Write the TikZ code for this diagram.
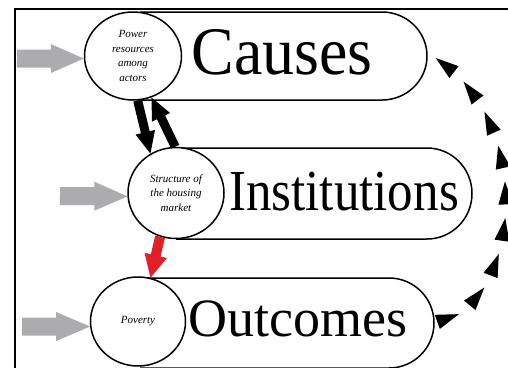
\documentclass[tikz,border=0pt]{standalone}
\usepackage{fontspec}
\setmainfont{Liberation Serif}
\usetikzlibrary{calc,shapes.geometric,decorations.markings}
\definecolor{arrgray}{RGB}{172,172,174}
\definecolor{arrred}{RGB}{226,30,38}
% #1 style, #2 from, #3 to, #4 half shaft, #5 half head, #6 head length
\newcommand{\blockarr}[6]{%
  \coordinate (bahb) at ($(#3)!#6!(#2)$);
  \fill[#1] ($(#2)!#4!90:(#3)$) -- ($(bahb)!#4!90:(#3)$) -- ($(bahb)!#5!90:(#3)$)
    -- (#3) -- ($(bahb)!#5!-90:(#3)$) -- ($(bahb)!#4!-90:(#3)$) -- ($(#2)!#4!-90:(#3)$) -- cycle;}
\begin{document}
\begin{tikzpicture}[x=1pt,y=1pt,
  circ/.style={ellipse, draw, line width=1.5pt, fill=white, inner sep=0pt,
    font=\fontsize{11}{14.5}\selectfont\itshape, align=center},
  boxline/.style={line width=1.5pt},
  bigtext/.style={inner sep=0pt, anchor=base},
  grayarr/.style={fill=arrgray},
  blackarr/.style={fill=black},
  redarr/.style={fill=arrred},
  feedback/.style={decoration={markings,
      mark=between positions 12pt and 325pt step 36.5pt with
      {\fill[black] (-11,-7.5) -- (12,0) -- (-11,7.5) -- cycle;}},
    postaction={decorate}}
]
\fill[white] (0,0) rectangle (508,-367);
\useasboundingbox (0,0) rectangle (508,-367);
\clip (0,0) rectangle (508,-367);

% frame
\draw[line width=2pt] (512,-9) -- (15,-9) -- (15,-372);

% boxes
\draw[boxline] (140,-12) -- (382,-12) arc[start angle=90,end angle=-90,x radius=45,y radius=44] -- (140,-100);
\draw[boxline] (176,-148) -- (427,-148) arc[start angle=90,end angle=-90,x radius=45,y radius=45.5] -- (176,-239);
\draw[boxline] (140,-278) -- (389,-278) arc[start angle=90,end angle=-90,x radius=45,y radius=45] -- (140,-368);

% circles
\node[circ, minimum width=97pt, minimum height=88pt] (pow) at (133,-56) {Power\\resources\\among\\actors};
\node[circ, minimum width=96pt, minimum height=91pt] (str) at (176,-193) {Structure of\\the housing\\market};
\node[circ, minimum width=95pt, minimum height=89pt] (pov) at (138,-321.5) {Poverty};

% big labels
\node[bigtext, font=\fontsize{68}{68}\selectfont] (causes) at (282,-74) {\scalebox{0.94}[1]{Causes}};
\node[bigtext, font=\fontsize{58}{58}\selectfont] (inst) at (344,-210) {\scalebox{0.88}[1]{Institutions}};
\node[bigtext, font=\fontsize{54}{54}\selectfont] (outc) at (298,-336) {Outcomes};

% gray input arrows
\coordinate (g1) at (17,-58.5);
\coordinate (g2) at (60,-196);
\coordinate (g3) at (22,-326.5);
\blockarr{grayarr}{g1}{pow.183}{9pt}{14.5pt}{33pt}
\blockarr{grayarr}{g2}{str.184}{9pt}{14.5pt}{33pt}
\blockarr{grayarr}{g3}{pov.186}{9pt}{14.5pt}{34pt}

% black arrows
\blockarr{blackarr}{pow.-84}{str.123}{4.5pt}{10pt}{22pt}
\blockarr{blackarr}{str.91}{pow.-66}{4.5pt}{10pt}{22pt}

% red arrow
\blockarr{redarr}{str.-110}{pov.74}{5pt}{11.5pt}{23pt}

% feedback
\coordinate (outR) at (436,-321);
\coordinate (causR) at (428,-54);
\path[feedback] (outR) .. controls (520,-310) and (540,-116) .. (causR);
\end{tikzpicture}
\end{document}
